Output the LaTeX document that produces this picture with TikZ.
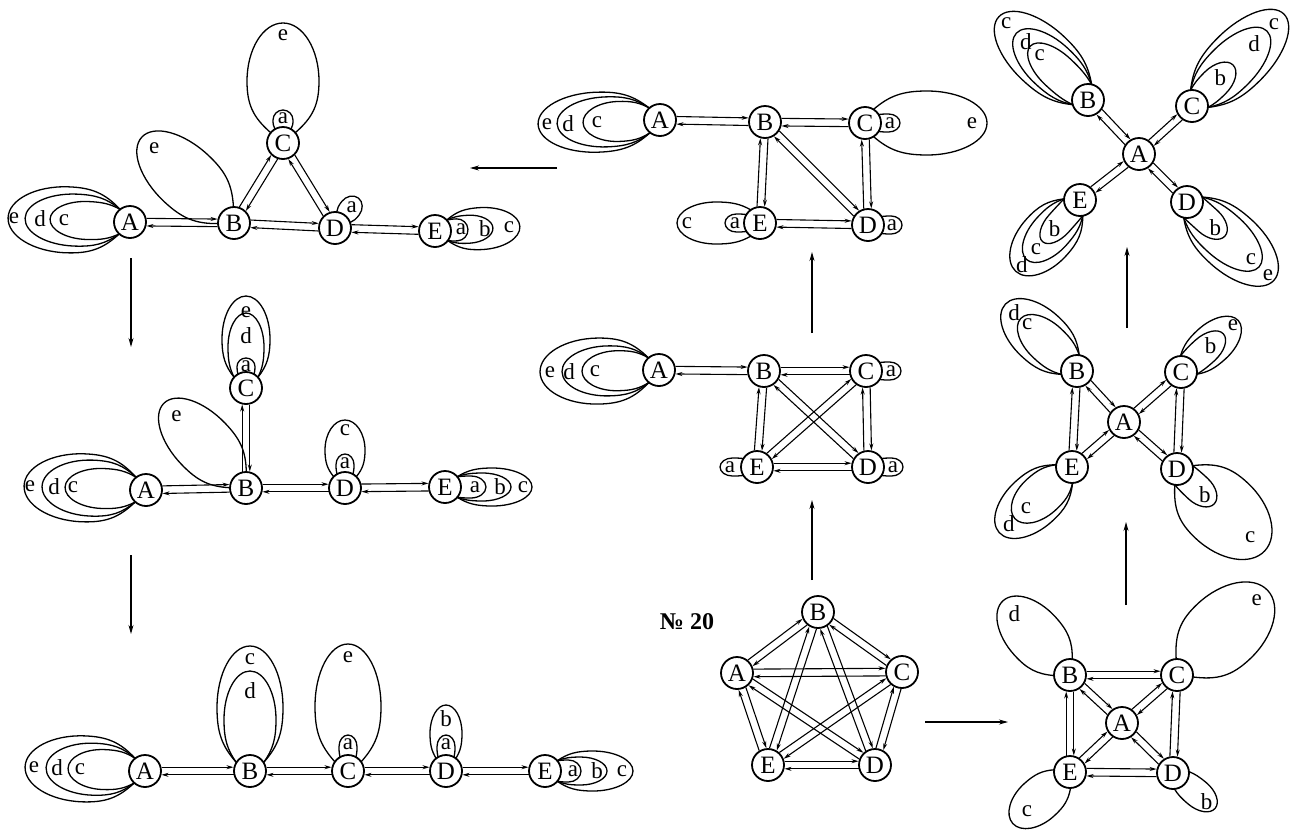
\documentclass[tikz,border=0pt]{standalone}
\usepackage{fontspec}
\setmainfont{Liberation Serif}
\usetikzlibrary{calc,arrows.meta}
\pgfdeclarelayer{bgzero}
\pgfdeclarelayer{bgone}
\pgfsetlayers{bgzero,bgone,main}
\newcounter{lpc}
\newcommand\lpR{16}
\tikzset{
  vert/.style={circle,draw,line width=1.8pt,fill=white,minimum size=32pt,inner sep=0pt,font=\fontsize{25}{25}\selectfont},
  edgeline/.style={line width=1.1pt,-{Stealth[length=7pt,width=4pt]},shorten >=16.5pt,shorten <=16.5pt},
  loopline/.style={line width=1.3pt},
  lab/.style={font=\fontsize{23}{23}\selectfont,inner sep=0pt},
  trans/.style={line width=1.1pt,-{Stealth[length=9pt,width=5pt]}},
}
\newcommand\lpcu[3]{\coordinate (#1) at ($(\lpN)+(\lpA:#2)+(\lpA+90:#3)$);}
\newcommand\lpcd[3]{\coordinate (#1) at ($(\lpN)+(\lpA:#2)+(\lpA-90:#3)$);}
% loop: node, axis angle, spread, tip distance, half width, label, label distance
\newcommand\lp[7]{%
  \def\lpN{#1}\def\lpA{#2}%
  \pgfmathsetmacro\lpRc{\lpR*cos(#3)}%
  \pgfmathsetmacro\lpRs{\lpR*sin(#3)}%
  \pgfmathsetmacro\lpM{\lpRc+0.47*(#4-\lpRc)}%
  \pgfmathsetmacro\lpUa{\lpRc+0.3*(\lpM-\lpRc)}%
  \pgfmathsetmacro\lpVa{\lpRs+0.75*(#5-\lpRs)}%
  \pgfmathsetmacro\lpUb{\lpM-0.45*(\lpM-\lpRc)}%
  \pgfmathsetmacro\lpUc{\lpM+0.552*(#4-\lpM)}%
  \pgfmathsetmacro\lpVd{0.552*#5}%
  \lpcu{lpS}{\lpRc}{\lpRs}\lpcu{lpA1}{\lpUa}{\lpVa}\lpcu{lpB1}{\lpUb}{#5}\lpcu{lpP1}{\lpM}{#5}%
  \lpcu{lpC1}{\lpUc}{#5}\lpcu{lpD1}{#4}{\lpVd}\lpcu{lpT}{#4}{0}%
  \lpcd{lpD2}{#4}{\lpVd}\lpcd{lpC2}{\lpUc}{#5}\lpcd{lpP2}{\lpM}{#5}%
  \lpcd{lpB2}{\lpUb}{#5}\lpcd{lpA2}{\lpUa}{\lpVa}\lpcd{lpE}{\lpRc}{\lpRs}%
  \draw[loopline] (lpS) .. controls (lpA1) and (lpB1) .. (lpP1)
     .. controls (lpC1) and (lpD1) .. (lpT)
     .. controls (lpD2) and (lpC2) .. (lpP2)
     .. controls (lpB2) and (lpA2) .. (lpE);%
  \stepcounter{lpc}%
  \node[lab] (lab\arabic{lpc}) at ($(#1)+(#2:#7)$) {#6};%
}
\newcommand\bi[2]{%
  \draw[edgeline] ($(#1)!3.8pt!90:(#2)$) -- ($(#2)!3.8pt!-90:(#1)$);%
  \draw[edgeline] ($(#2)!3.8pt!90:(#1)$) -- ($(#1)!3.8pt!-90:(#2)$);%
}
\begin{document}
\begin{tikzpicture}[x=1pt,y=1pt]
\begin{pgfonlayer}{bgzero}
\fill[white] (0,0) rectangle (1305,-836);
\end{pgfonlayer}
\useasboundingbox (0,0) rectangle (1305,-836);

% ---------- G1 (top left)
\node[vert] (g1A) at (130,-222) {A};
\node[vert] (g1B) at (234,-223) {B};
\node[vert] (g1C) at (283,-143) {C};
\node[vert] (g1D) at (335,-228) {D};
\node[vert] (g1E) at (435,-231) {E};
% ---------- G2 (top middle)
\node[vert] (g2A) at (660,-120) {A};
\node[vert] (g2B) at (765,-122) {B};
\node[vert] (g2C) at (865,-123) {C};
\node[vert] (g2E) at (760,-223) {E};
\node[vert] (g2D) at (868,-225) {D};
% ---------- G3 (top right)
\node[vert] (g3A) at (1139,-154) {A};
\node[vert] (g3B) at (1088,-100) {B};
\node[vert] (g3C) at (1192,-106) {C};
\node[vert] (g3E) at (1080,-200) {E};
\node[vert] (g3D) at (1187,-202) {D};
% ---------- G4 (middle left)
\node[vert] (g4A) at (146,-490) {A};
\node[vert] (g4B) at (246,-488) {B};
\node[vert] (g4C) at (246,-388) {C};
\node[vert] (g4D) at (345,-488) {D};
\node[vert] (g4E) at (445,-487) {E};
% ---------- G5 (middle)
\node[vert] (g5A) at (659,-370) {A};
\node[vert] (g5B) at (764,-371) {B};
\node[vert] (g5C) at (866,-371) {C};
\node[vert] (g5E) at (757,-467) {E};
\node[vert] (g5D) at (868,-467) {D};
% ---------- G6 (middle right)
\node[vert] (g6B) at (1077,-371) {B};
\node[vert] (g6C) at (1181,-372) {C};
\node[vert] (g6A) at (1124,-422) {A};
\node[vert] (g6E) at (1072,-467) {E};
\node[vert] (g6D) at (1177,-469) {D};
% ---------- G7 (pentagon)
\node[vert] (g7B) at (818,-612) {B};
\node[vert] (g7A) at (737,-673) {A};
\node[vert] (g7C) at (902,-672) {C};
\node[vert] (g7E) at (768,-765) {E};
\node[vert] (g7D) at (875,-765) {D};
\node[font=\bfseries\fontsize{24}{24}\selectfont] (num) at (687,-622) {№ 20};
% ---------- G8 (bottom right)
\node[vert] (g8B) at (1070,-675) {B};
\node[vert] (g8C) at (1177,-675) {C};
\node[vert] (g8A) at (1122,-723) {A};
\node[vert] (g8E) at (1070,-772) {E};
\node[vert] (g8D) at (1173,-773) {D};
% ---------- G9 (bottom left)
\node[vert] (g9A) at (145,-771) {A};
\node[vert] (g9B) at (250,-771) {B};
\node[vert] (g9C) at (348,-771) {C};
\node[vert] (g9D) at (446,-771) {D};
\node[vert] (g9E) at (545,-771) {E};

% transition arrows
\coordinate (t1s) at (557,-168); \coordinate (t1e) at (470,-168);
\coordinate (t2s) at (131,-258); \coordinate (t2e) at (131,-347);
\coordinate (t3s) at (131,-555); \coordinate (t3e) at (131,-634);
\coordinate (t4s) at (812,-580); \coordinate (t4e) at (812,-500);
\coordinate (t5s) at (812,-333); \coordinate (t5e) at (812,-252);
\coordinate (t6s) at (925,-722); \coordinate (t6e) at (1008,-722);
\coordinate (t7s) at (1126,-605); \coordinate (t7e) at (1126,-522);
\coordinate (t8s) at (1127,-328); \coordinate (t8e) at (1127,-247);
\draw[trans] (t1s) -- (t1e);
\draw[trans] (t2s) -- (t2e);
\draw[trans] (t3s) -- (t3e);
\draw[trans] (t4s) -- (t4e);
\draw[trans] (t5s) -- (t5e);
\draw[trans] (t6s) -- (t6e);
\draw[trans] (t7s) -- (t7e);
\draw[trans] (t8s) -- (t8e);

\begin{pgfonlayer}{bgone}
% G1
\bi{g1A}{g1B}\bi{g1B}{g1D}\bi{g1B}{g1C}\bi{g1C}{g1D}\bi{g1D}{g1E}
\lp{g1A}{178}{50}{122}{33}{e}{116}
\lp{g1A}{178}{50}{105}{26}{d}{90}
\lp{g1A}{178}{50}{80}{19}{c}{66}
\lp{g1B}{137}{45}{126}{32}{e}{109}
\lp{g1C}{90}{50}{120}{36}{e}{108}
\lp{g1C}{90}{30}{33}{10}{a}{25}
\lp{g1D}{52}{32}{38}{11}{a}{27}
\lp{g1E}{3}{40}{33}{11}{a}{26}
\lp{g1E}{3}{40}{58}{14}{b}{50}
\lp{g1E}{3}{40}{85}{21}{c}{74}
% G2
\bi{g2A}{g2B}\bi{g2B}{g2C}\bi{g2B}{g2E}\bi{g2B}{g2D}\bi{g2C}{g2D}\bi{g2E}{g2D}
\lp{g2A}{182}{50}{122}{30}{e}{113}
\lp{g2A}{182}{50}{103}{25}{d}{92}
\lp{g2A}{182}{50}{77}{20}{c}{63}
\lp{g2C}{0}{32}{35}{9}{a}{25}
\lp{g2C}{0}{58}{122}{32}{e}{107}
\lp{g2E}{180}{32}{35}{9}{a}{25}
\lp{g2E}{180}{55}{83}{21}{c}{73}
\lp{g2D}{0}{32}{34}{9}{a}{24}
% G3
\bi{g3A}{g3B}\bi{g3A}{g3C}\bi{g3A}{g3E}\bi{g3A}{g3D}
\lp{g3B}{137}{60}{122}{30}{c}{112}
\lp{g3B}{137}{60}{98}{24}{d}{85}
\lp{g3B}{137}{60}{79}{18}{c}{66}
\lp{g3C}{45}{50}{130}{30}{c}{116}
\lp{g3C}{45}{50}{106}{24}{d}{88}
\lp{g3C}{45}{50}{58}{15}{b}{40}
\lp{g3E}{228}{52}{96}{27}{d}{87}
\lp{g3E}{228}{52}{80}{20}{c}{66}
\lp{g3E}{228}{52}{56}{13}{b}{38}
\lp{g3D}{-42}{60}{117}{30}{e}{109}
\lp{g3D}{-42}{60}{97}{23}{c}{86}
\lp{g3D}{-42}{60}{51}{14}{b}{38}
% G4
\bi{g4A}{g4B}\bi{g4B}{g4C}\bi{g4B}{g4D}\bi{g4D}{g4E}
\lp{g4A}{178}{50}{122}{34}{e}{116}
\lp{g4A}{178}{50}{104}{28}{d}{92}
\lp{g4A}{178}{50}{81}{20}{c}{73}
\lp{g4B}{134}{45}{118}{30}{e}{100}
\lp{g4C}{90}{48}{92}{24}{e}{76}
\lp{g4C}{90}{48}{75}{18}{d}{52}
\lp{g4C}{90}{30}{30}{9}{a}{22}
\lp{g4D}{90}{45}{68}{20}{c}{58}
\lp{g4D}{90}{30}{34}{9}{a}{25}
\lp{g4E}{0}{40}{41}{11}{a}{30}
\lp{g4E}{0}{40}{66}{14}{b}{55}
\lp{g4E}{0}{40}{87}{19}{c}{78}
% G5
\bi{g5A}{g5B}\bi{g5B}{g5C}\bi{g5B}{g5E}\bi{g5B}{g5D}\bi{g5C}{g5E}\bi{g5C}{g5D}\bi{g5E}{g5D}
\lp{g5A}{181}{50}{119}{33}{e}{109}
\lp{g5A}{181}{50}{97}{25}{d}{90}
\lp{g5A}{181}{50}{77}{20}{c}{64}
\lp{g5E}{180}{32}{37}{9}{a}{27}
\lp{g5C}{0}{32}{35}{9}{a}{25}
\lp{g5D}{0}{32}{35}{9}{a}{25}
% G6
\bi{g6B}{g6E}\bi{g6C}{g6D}\bi{g6A}{g6B}\bi{g6A}{g6C}\bi{g6A}{g6E}\bi{g6A}{g6D}
\lp{g6B}{137}{55}{98}{27}{d}{86}
\lp{g6B}{137}{55}{77}{20}{c}{68}
\lp{g6C}{42}{50}{77}{20}{e}{70}
\lp{g6C}{42}{50}{57}{14}{b}{40}
\lp{g6E}{222}{50}{98}{27}{d}{85}
\lp{g6E}{222}{50}{77}{21}{c}{62}
\lp{g6D}{-43}{55}{120}{38}{c}{100}
\lp{g6D}{-43}{55}{51}{14}{b}{38}
% G7
\bi{g7A}{g7B}\bi{g7B}{g7C}\bi{g7A}{g7C}\bi{g7A}{g7E}\bi{g7A}{g7D}
\bi{g7B}{g7E}\bi{g7B}{g7D}\bi{g7C}{g7E}\bi{g7C}{g7D}\bi{g7E}{g7D}
% G8
\bi{g8B}{g8C}\bi{g8B}{g8E}\bi{g8C}{g8D}\bi{g8E}{g8D}
\bi{g8A}{g8B}\bi{g8A}{g8C}\bi{g8A}{g8E}\bi{g8A}{g8D}
\lp{g8B}{132}{50}{100}{28}{d}{83}
\lp{g8C}{43}{50}{124}{38}{e}{109}
\lp{g8E}{222}{50}{77}{22}{c}{58}
\lp{g8D}{-40}{45}{55}{14}{b}{44}
% G9
\bi{g9A}{g9B}\bi{g9B}{g9C}\bi{g9C}{g9D}\bi{g9D}{g9E}
\lp{g9A}{178}{50}{120}{33}{e}{111}
\lp{g9A}{178}{50}{99}{26}{d}{88}
\lp{g9A}{178}{50}{77}{20}{c}{65}
\lp{g9B}{90}{58}{125}{33}{c}{112}
\lp{g9B}{90}{58}{100}{26}{d}{80}
\lp{g9C}{90}{55}{127}{33}{e}{114}
\lp{g9C}{90}{30}{36}{9}{a}{27}
\lp{g9D}{90}{38}{66}{16}{b}{52}
\lp{g9D}{90}{30}{36}{9}{a}{27}
\lp{g9E}{0}{40}{36}{11}{a}{28}
\lp{g9E}{0}{40}{62}{14}{b}{52}
\lp{g9E}{0}{40}{88}{20}{c}{77}
\end{pgfonlayer}
\end{tikzpicture}
\end{document}
